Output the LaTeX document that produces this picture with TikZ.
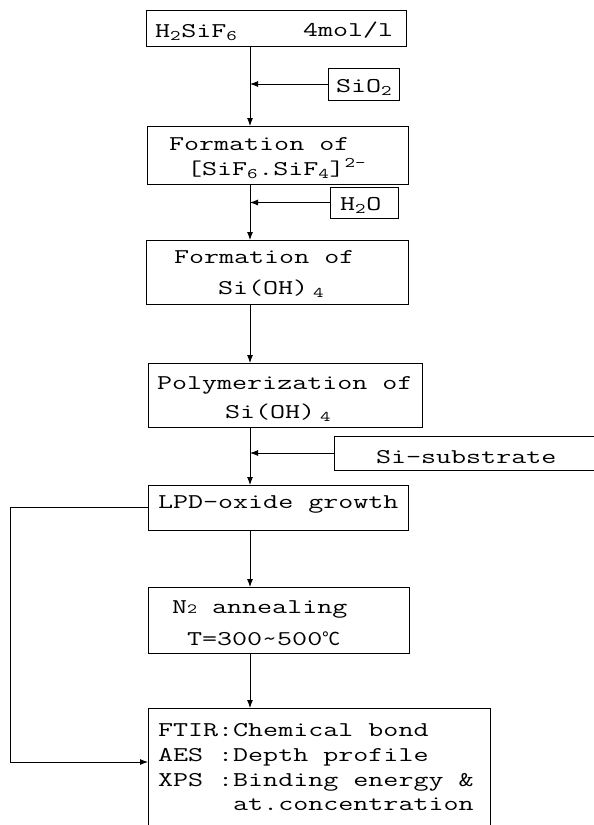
\documentclass[tikz,border=0pt]{standalone}
\usepackage{fontspec}
\usepackage{graphicx}
\newfontfamily\cjkfont{Noto Sans CJK SC}
\usetikzlibrary{arrows.meta}
\newcommand\st[1]{\scalebox{1.39}[1]{#1}}
\begin{document}
\begin{tikzpicture}[x=1pt,y=-1pt,
  box/.style={draw, line width=0.9pt, inner sep=0pt, outer sep=0pt},
  txt/.style={inner sep=0pt, outer sep=0pt, anchor=base west, font=\fontsize{21}{25}\selectfont\ttfamily},
  arr/.style={line width=0.9pt, -{Latex[length=8pt,width=6pt]}},
  ln/.style={line width=0.9pt}]
\clip (0,0) rectangle (594,825);
\fill[white] (0,0) rectangle (594,825);
% spine
\coordinate (sp) at (250,0);
% boxes
\node[box, minimum width=260pt, minimum height=36pt] (b1) at (276,28) {};
\node[box, minimum width=71pt, minimum height=32pt] (sio) at (363.5,84) {};
\node[box, minimum width=261pt, minimum height=58pt] (b2) at (277.5,155) {};
\node[box, minimum width=68pt, minimum height=31pt] (wat) at (364,202.5) {};
\node[box, minimum width=262pt, minimum height=64pt] (b3) at (277,272) {};
\node[box, minimum width=274pt, minimum height=64pt] (b4) at (285,395) {};
\node[box, minimum width=276pt, minimum height=34pt] (sub) at (472,453) {};
\node[box, minimum width=260pt, minimum height=45pt] (b5) at (278,507.5) {};
\node[box, minimum width=261pt, minimum height=66pt] (b6) at (278.5,620) {};
\node[box, minimum width=342pt, minimum height=132pt] (b7) at (319,774) {};
% texts
\node[txt] (t1a) at (155,37) {\st{H\textsubscript{2}SiF\textsubscript{6}}};
\node[txt] (t1b) at (303,36) {\st{4mol/l}};
\node[txt] (tsio) at (336,92) {\st{SiO\textsubscript{2}}};
\node[txt] (t2a) at (169,150) {\st{Formation of}};
\node[txt] (t2b) at (187,175) {\st{[SiF\textsubscript{6}.SiF\textsubscript{4}]\textsuperscript{2-}}};
\node[txt] (twat) at (340,210) {\st{H\textsubscript{2}O}};
\node[txt] (t3a) at (174,263) {\st{Formation of}};
\node[txt] (t3b) at (218,294) {\st{Si(OH)\,\textsubscript{4}}};
\node[txt] (t4a) at (157,389) {\st{Polymerization of}};
\node[txt] (t4b) at (225,418) {\st{Si(OH)\,\textsubscript{4}}};
\node[txt] (tsub) at (376,463) {\st{Si-substrate}};
\node[txt] (t5) at (158,508) {\st{LPD-oxide growth}};
\node[txt] (t6a) at (172,613) {\st{N{\fontsize{14}{14}\selectfont 2} annealing}};
\node[txt] (t6b) at (187,645) {\st{T=300\textasciitilde500}{\cjkfont\fontsize{18}{18}\selectfont ℃}};
\node[txt] (t7a) at (158,736) {\st{FTIR:Chemical bond}};
\node[txt] (t7b) at (158,761) {\st{AES :Depth profile}};
\node[txt] (t7c) at (158,786) {\st{XPS :Binding energy \&}};
\node[txt] (t7d) at (158,810) {\st{\ \ \ \ \ at.concentration}};
% connectors
\draw[arr] (b1.south -| sp) -- (b2.north -| sp);
\draw[arr] (sio.west) -- (sio.west -| sp);
\draw[arr] (b2.south -| sp) -- (b3.north -| sp);
\draw[arr] (wat.west) -- (wat.west -| sp);
\draw[arr] (b3.south -| sp) -- (b4.north -| sp);
\draw[arr] (b4.south -| sp) -- (b5.north -| sp);
\draw[arr] (sub.west) -- (sub.west -| sp);
\draw[arr] (b5.south -| sp) -- (b6.north -| sp);
\draw[arr] (b6.south -| sp) -- (b7.north -| sp);
\coordinate (fb) at (10,762);
\draw[ln] (b5.west) -| (fb);
\draw[arr] (fb) -- (fb -| b7.west);
\end{tikzpicture}
\end{document}
